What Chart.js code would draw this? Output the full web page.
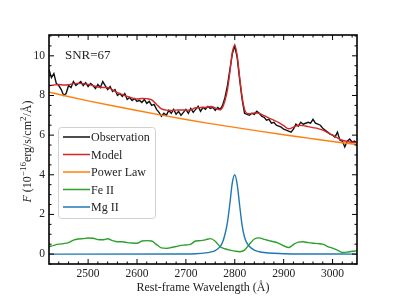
<!DOCTYPE html>
<html>
<head>
<meta charset="utf-8">
<script src="https://cdn.jsdelivr.net/npm/chart.js@4.4.1/dist/chart.umd.min.js"></script>
<style>
  html, body { margin: 0; padding: 0; background: #fff; }
  #wrap { width: 397px; height: 297px; }
</style>
</head>
<body>
<div id="wrap"><canvas id="specChart" width="397" height="297"></canvas></div>
<script>
// tick labels
const xTicks = [2500, 2600, 2700, 2800, 2900, 3000];
const yTicks = [0, 2, 4, 6, 8, 10];

const range = (a, b, s) => { const out = []; for (let v = a; v <= b; v += s) out.push(v); return out; };

// observed spectrum, sampled every 5 A from 2420 to 3050
const obsWave = range(2420, 3050, 5);
const obsFlux = [
  9.3, 8.9, 9.1, 8.6, 8.5, 8.3, 8.0, 8.1, 8.5, 8.4,
  8.7, 8.5, 8.6, 8.7, 8.5, 8.65, 8.45, 8.6, 8.5, 8.35,
  8.55, 8.4, 8.7, 8.5, 8.3, 8.45, 8.2, 8.3, 8.0, 8.1,
  7.95, 8.1, 7.8, 7.9, 7.75, 7.85, 7.7, 7.75, 7.65, 7.8,
  7.6, 7.7, 7.5, 7.55, 7.3, 7.15, 6.95, 7.1, 7.0, 7.25,
  7.1, 7.3, 7.05, 7.2, 7.0, 7.15, 7.3, 7.1, 7.35, 7.15,
  7.3, 7.45, 7.2, 7.4, 7.3, 7.45, 7.35, 7.4, 7.25, 7.4,
  7.3, 7.5, 7.9, 8.5, 9.3, 10.1, 10.5, 9.9, 8.8, 7.8,
  7.1, 7.05, 7.0, 7.1, 7.05, 7.2, 7.1, 6.95, 6.9, 6.75,
  6.8, 6.6, 6.65, 6.5, 6.45, 6.4, 6.3, 6.25, 6.2, 6.15,
  6.3, 6.55, 6.45, 6.65, 6.55, 6.6, 6.65, 6.6, 6.8, 6.6,
  6.55, 6.5, 6.35, 6.25, 6.15, 6.05, 6.0, 5.9, 6.15, 5.75,
  5.7, 5.4, 5.7, 5.8, 5.65, 5.7, 5.6
];

// total model
const modelWave = [
  2420, 2430, 2440, 2450, 2460, 2470, 2480, 2490, 2500, 2510,
  2520, 2530, 2540, 2550, 2560, 2570, 2580, 2590, 2600, 2610,
  2620, 2630, 2640, 2650, 2660, 2670, 2680, 2690, 2700, 2710,
  2720, 2730, 2740, 2750, 2760,
  2765, 2770, 2775, 2780, 2785, 2790, 2795, 2800, 2805, 2810, 2815, 2820, 2825, 2830,
  2840, 2850, 2860, 2870, 2880, 2890, 2900, 2910, 2920, 2930, 2940,
  2950, 2960, 2970, 2980, 2990, 3000, 3010, 3020, 3030, 3040, 3050
];
const modelFlux = [
  8.50, 8.53, 8.55, 8.53, 8.54, 8.60, 8.61, 8.59, 8.56, 8.50,
  8.42, 8.40, 8.40, 8.28, 8.14, 8.05, 7.95, 7.88, 7.82, 7.85,
  7.84, 7.78, 7.55, 7.32, 7.26, 7.25, 7.26, 7.27, 7.26, 7.27,
  7.38, 7.39, 7.40, 7.44, 7.37,
  7.30, 7.28, 7.40, 7.74, 8.28, 9.18, 10.18, 10.54, 10.0, 8.92, 7.93, 7.30, 7.10, 7.08,
  7.12, 7.10, 6.98, 6.86, 6.75, 6.63, 6.48, 6.32, 6.40, 6.50, 6.48,
  6.43, 6.38, 6.33, 6.25, 6.12, 6.00, 5.86, 5.74, 5.68, 5.64, 5.62
];

// power-law continuum
const plWave = [2420, 2450, 2500, 2550, 2600, 2650, 2700, 2750, 2800, 2850, 2900, 2950, 3000, 3050];
const plFlux = [8.17, 8.00, 7.73, 7.48, 7.24, 7.01, 6.79, 6.58, 6.39, 6.20, 6.02, 5.85, 5.68, 5.53];

// Fe II template, every 10 A
const feWave = range(2420, 3050, 10);
const feFlux = [
  0.37, 0.44, 0.50, 0.53, 0.58, 0.70, 0.76, 0.78, 0.81, 0.80,
  0.73, 0.72, 0.77, 0.68, 0.62, 0.62, 0.58, 0.56, 0.55, 0.66,
  0.68, 0.66, 0.48, 0.31, 0.29, 0.33, 0.38, 0.44, 0.46, 0.50,
  0.66, 0.68, 0.72, 0.78, 0.65, 0.37, 0.27, 0.20, 0.15, 0.12,
  0.20, 0.50, 0.76, 0.82, 0.74, 0.68, 0.62, 0.54, 0.42, 0.33,
  0.48, 0.60, 0.62, 0.58, 0.55, 0.53, 0.50, 0.38, 0.30, 0.20,
  0.08, 0.10, 0.14, 0.16
];

// Mg II line
const mgWave = [2420, 2700, 2720, 2740, 2750, 2760, 2770, 2775, 2780, 2785, 2790, 2795, 2800,
  2805, 2810, 2815, 2820, 2825, 2830, 2840, 2850, 2860, 2880, 2900, 3050];
const mgFlux = [0, 0.005, 0.02, 0.06, 0.1, 0.18, 0.38, 0.6, 1.0, 1.6, 2.55, 3.6, 4.0,
  3.5, 2.45, 1.45, 0.85, 0.55, 0.38, 0.2, 0.12, 0.08, 0.04, 0.02, 0.0];

const seriesNames = ['Observation', 'Model', 'Power Law', 'Fe II', 'Mg II'];
const seriesColors = ['#111111', '#d62728', '#ff7f0e', '#2ca02c', '#1f77b4'];

const toPoints = (xs, ys) => xs.map((x, i) => ({ x: x, y: ys[i] }));

const SERIF = '"Liberation Serif", "DejaVu Serif", serif';

// inward ticks on all four sides plus the axes box
const frameTicks = {
    id: 'frameTicks',
    afterDatasetsDraw(chart) {
        const { ctx, chartArea: a, scales } = chart;
        const xs = scales.x, ys = scales.y;
        ctx.save();
        ctx.strokeStyle = '#000';
        ctx.lineWidth = 1;
        const tick = (px, len, horiz) => {
            ctx.beginPath();
            if (horiz) {
                ctx.moveTo(px, a.bottom); ctx.lineTo(px, a.bottom - len);
                ctx.moveTo(px, a.top); ctx.lineTo(px, a.top + len);
            } else {
                ctx.moveTo(a.left, px); ctx.lineTo(a.left + len, px);
                ctx.moveTo(a.right, px); ctx.lineTo(a.right - len, px);
            }
            ctx.stroke();
        };
        for (let v = 2440; v <= 3040; v += 20) {
            tick(xs.getPixelForValue(v), xTicks.includes(v) ? 5 : 2.5, true);
        }
        for (let v = -0.5; v <= 11; v += 0.5) {
            tick(ys.getPixelForValue(v), yTicks.includes(v) ? 5 : 2.5, false);
        }
        ctx.lineWidth = 1.6;
        ctx.strokeRect(a.left, a.top, a.right - a.left, a.bottom - a.top);
        ctx.restore();
    }
};

// SNR note, legend box and rotated y label
const annotations = {
    id: 'annotations',
    afterDraw(chart) {
        const { ctx, chartArea: a } = chart;
        ctx.save();
        ctx.fillStyle = '#222';
        ctx.font = '13px ' + SERIF;
        ctx.textBaseline = 'alphabetic';
        ctx.fillText('SNR=67', a.left + 16, a.top + 24);

        // legend
        const bx = 58, by = 127, bw = 97, bh = 91;
        ctx.beginPath();
        ctx.roundRect(bx + 0.5, by + 0.5, bw, bh, 3);
        ctx.fillStyle = 'rgba(255,255,255,0.8)';
        ctx.fill();
        ctx.strokeStyle = '#d0d0d0';
        ctx.lineWidth = 1;
        ctx.stroke();
        ctx.font = '12px ' + SERIF;
        ctx.textBaseline = 'middle';
        seriesNames.forEach((name, i) => {
            const yy = 137 + i * 17.5;
            ctx.strokeStyle = seriesColors[i];
            ctx.lineWidth = 1.5;
            ctx.beginPath();
            ctx.moveTo(63, yy); ctx.lineTo(90, yy);
            ctx.stroke();
            ctx.fillStyle = '#222';
            ctx.fillText(name, 91, yy + 1);
        });

        // y label: F (10^-16 erg/s/cm^2/A)
        const parts = [
            { t: 'F', f: 'italic 12px ' + SERIF, dy: 0 },
            { t: ' (10', f: '12px ' + SERIF, dy: 0 },
            { t: '\u221216', f: '9px ' + SERIF, dy: -5 },
            { t: 'erg/s/cm', f: '12px ' + SERIF, dy: 0 },
            { t: '2', f: '9px ' + SERIF, dy: -5 },
            { t: '/\u00c5)', f: '12px ' + SERIF, dy: 0 }
        ];
        let total = 0;
        parts.forEach(p => { ctx.font = p.f; p.w = ctx.measureText(p.t).width; total += p.w; });
        ctx.translate(31, (a.top + a.bottom) / 2 + 2);
        ctx.rotate(-Math.PI / 2);
        ctx.textBaseline = 'alphabetic';
        ctx.fillStyle = '#222';
        let cx = -total / 2;
        parts.forEach(p => { ctx.font = p.f; ctx.fillText(p.t, cx, p.dy); cx += p.w; });
        ctx.restore();
    }
};

const lineSet = (i, pts, order, smooth) => ({
    label: seriesNames[i],
    data: pts,
    borderColor: seriesColors[i],
    borderWidth: 1.4,
    pointRadius: 0,
    fill: false,
    order: order,
    cubicInterpolationMode: smooth ? 'monotone' : 'default',
    tension: 0
});

new Chart(document.getElementById('specChart'), {
    type: 'line',
    data: {
        datasets: [
            lineSet(0, toPoints(obsWave, obsFlux), 5, false),
            lineSet(1, toPoints(modelWave, modelFlux), 4, true),
            lineSet(2, toPoints(plWave, plFlux), 3, true),
            lineSet(3, toPoints(feWave, feFlux), 2, true),
            lineSet(4, toPoints(mgWave, mgFlux), 1, true)
        ]
    },
    options: {
        responsive: false,
        animation: false,
        layout: { padding: { top: 35, right: 40, left: 0, bottom: 0 } },
        plugins: { legend: { display: false }, tooltip: { enabled: false } },
        scales: {
            x: {
                type: 'linear',
                min: 2420,
                max: 3050,
                grid: { display: false, drawTicks: false },
                border: { display: false },
                afterBuildTicks: (s) => { s.ticks = xTicks.map(v => ({ value: v })); },
                afterFit: (s) => { s.height = 33; },
                ticks: {
                    color: '#222',
                    font: { family: SERIF, size: 11.5 },
                    padding: 3,
                    maxRotation: 0,
                    callback: (v) => String(v)
                },
                title: {
                    display: true,
                    text: 'Rest-frame Wavelength (\u00c5)',
                    color: '#222',
                    font: { family: SERIF, size: 12 },
                    padding: { top: 0, bottom: 2 }
                }
            },
            y: {
                type: 'linear',
                min: -0.5,
                max: 11.05,
                grid: { display: false, drawTicks: false },
                border: { display: false },
                afterBuildTicks: (s) => { s.ticks = yTicks.map(v => ({ value: v })); },
                afterFit: (s) => { s.width = 49; },
                ticks: {
                    color: '#222',
                    font: { family: SERIF, size: 11.5 },
                    padding: 4,
                    callback: (v) => String(v)
                }
            }
        }
    },
    plugins: [frameTicks, annotations]
});
</script>
</body>
</html>
